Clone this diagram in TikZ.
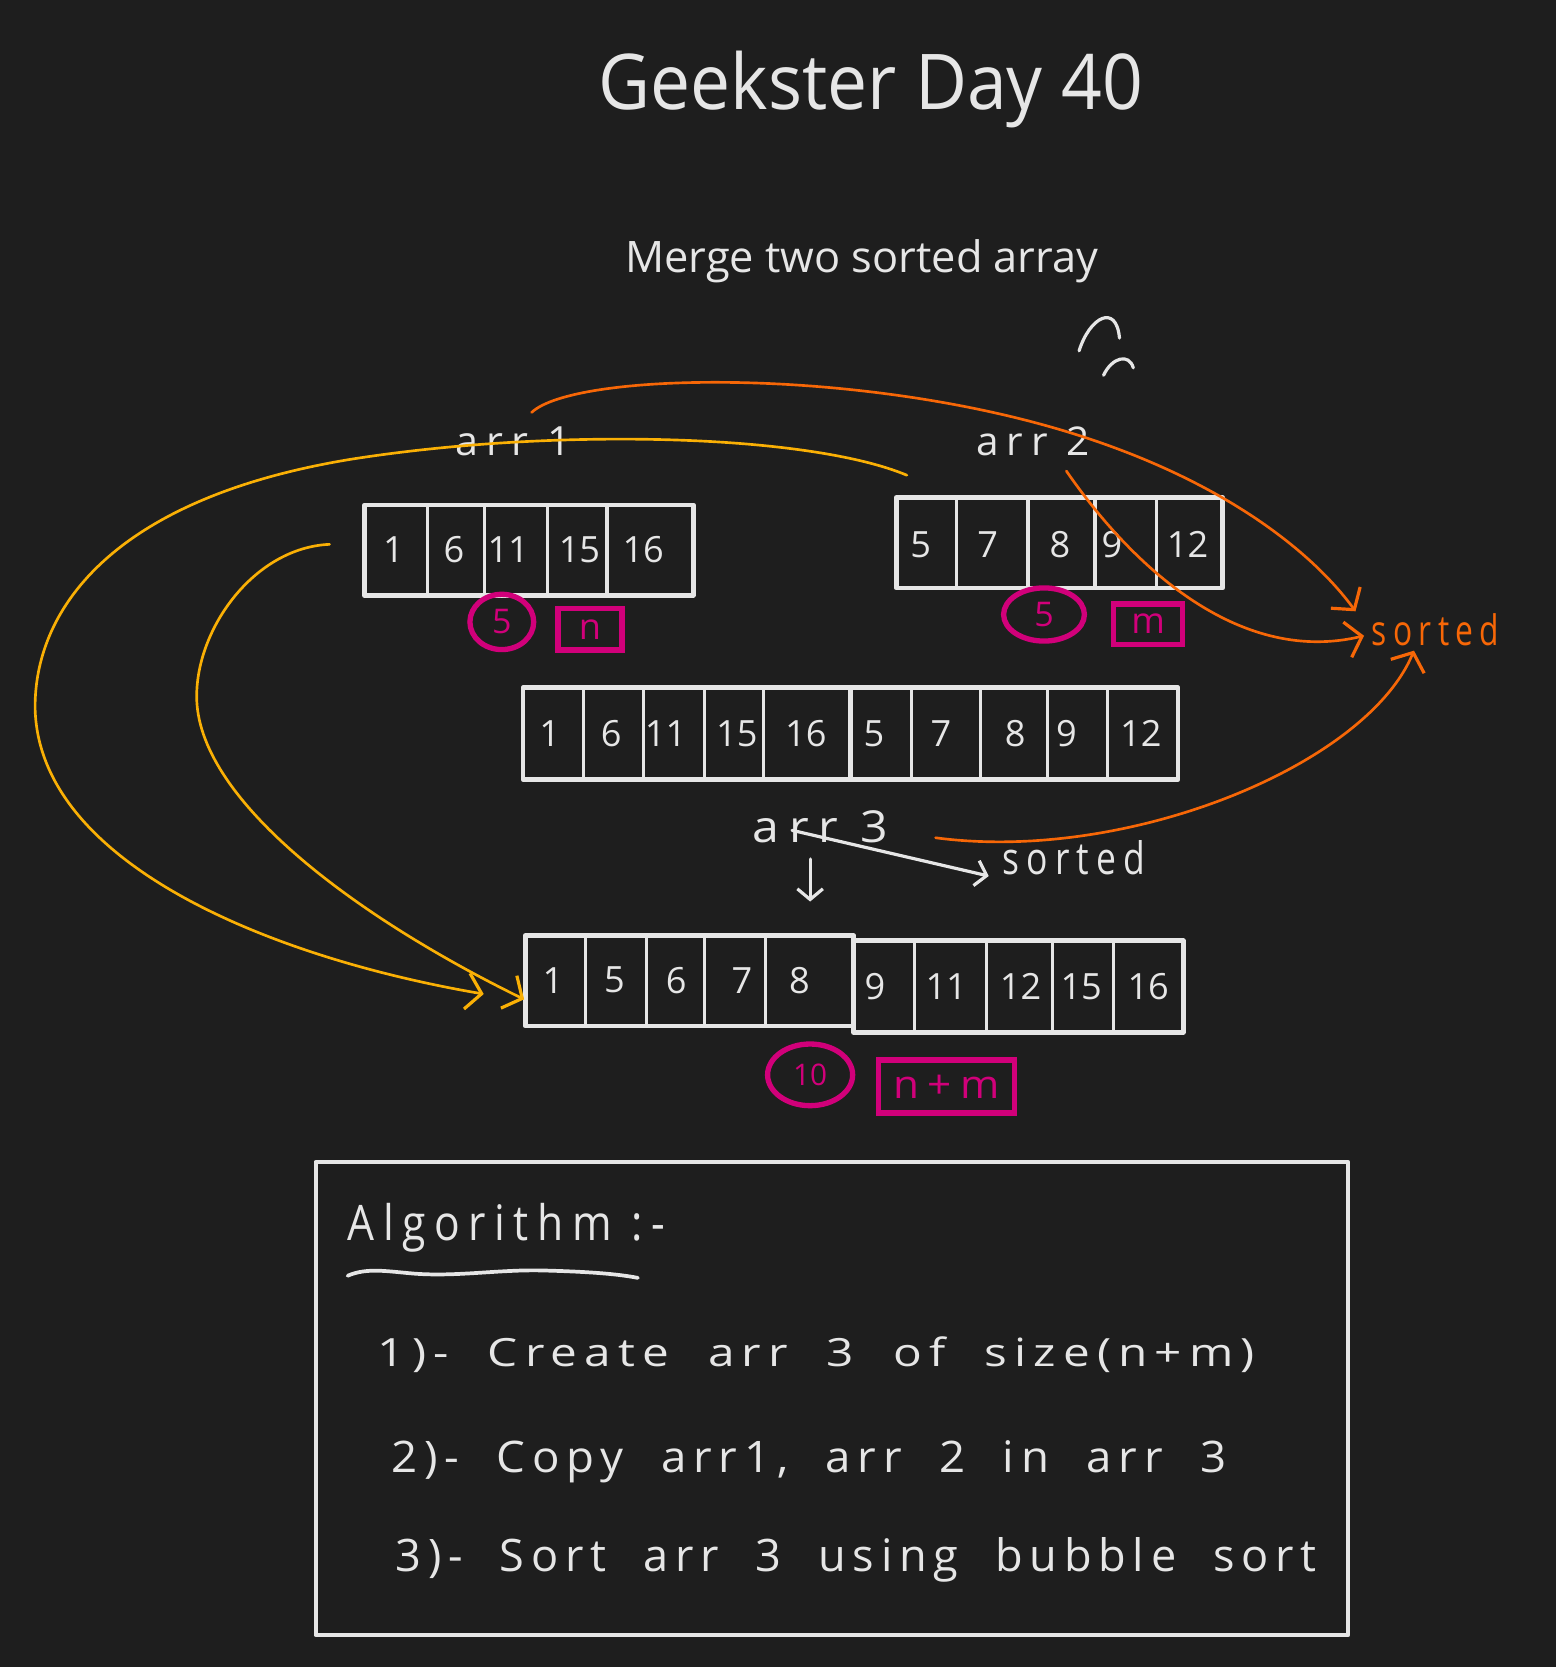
\documentclass[tikz,border=0pt]{standalone}
\usepackage{fontspec}
\usepackage{graphicx}
\setmainfont{Open Sans}
\newfontfamily\spaced{Open Sans}[LetterSpace=20]
\newfontfamily\spacedw{Open Sans}[LetterSpace=15,WordSpace=2]
\usetikzlibrary{arrows.meta,shapes.geometric}
\definecolor{bg}{HTML}{1E1E1E}
\definecolor{ink}{HTML}{E6E6E6}
\definecolor{pinkc}{HTML}{D1007A}
\definecolor{orng}{HTML}{F76707}
\definecolor{yel}{HTML}{FAB005}
\newcommand\hw[3]{\resizebox{#1pt}{#2pt}{#3}}
\begin{document}
\begin{tikzpicture}[x=1pt,y=-1pt,
  box/.style={draw=ink, line width=4.5pt, inner sep=0pt, outer sep=0pt, line join=round},
  div/.style={draw=ink, line width=3pt, line cap=round},
  num/.style={text=ink, inner sep=0pt, font=\fontsize{34}{34}\selectfont},
  lbl/.style={text=ink, inner sep=0pt, anchor=base west},
  pc/.style={draw=pinkc, ellipse, line width=5pt, inner sep=0pt, text=pinkc, font=\fontsize{32}{32}\selectfont},
  pb/.style={draw=pinkc, rectangle, line width=5pt, inner sep=0pt, text=pinkc, font=\fontsize{34}{34}\selectfont},
  ycon/.style={draw=yel, line width=2.5pt, line cap=round, -{Straight Barb[length=14pt,width=34pt,line width=3pt]}},
  ocon/.style={draw=orng, line width=2.5pt, line cap=round, -{Straight Barb[length=14pt,width=34pt,line width=3pt]}},
  wcon/.style={draw=ink, line width=3pt, line cap=round, -{Straight Barb[length=10pt,width=24pt,line width=3pt]}},
  scrib/.style={draw=ink, line width=3pt, line cap=round}]
\useasboundingbox[fill=bg] (0,0) rectangle (1464,1568);

% titles
\node[lbl] (ttl) at (563,103) {\hw{512}{55}{Geekster Day 40}};
\node[lbl] (sub) at (588,256) {\hw{445}{31}{Merge two sorted array}};

% scribble
\draw[scrib] (1015,330) .. controls (1025,298) and (1050,285) .. (1053,318);
\draw[scrib] (1038,353) .. controls (1046,336) and (1062,332) .. (1066,346);

% labels
\node[lbl] (l1) at (428,428) {\hw{109}{27}{\spaced arr 1}};
\node[lbl] (l2) at (918,428) {\hw{107}{27}{\spaced arr 2}};

% arr1
\node[box, minimum width=309pt, minimum height=85pt, anchor=north west] (arr1) at (343,475) {};
\foreach \x in {402,456,515,571} \draw[div] (\x,475) -- (\x,560);
\foreach \x/\t in {370/1,427/6,478/11,545/15,605/16} \node[num] (a1n\x) at (\x,517) {\t};

% arr2
\node[box, minimum width=307pt, minimum height=85pt, anchor=north west] (arr2) at (843,468) {};
\foreach \x in {900,967,1030,1088} \draw[div] (\x,468) -- (\x,553);
\foreach \x/\t in {866/5,929/7,997/8,1046/9,1117/12} \node[num] (a2n\x) at (\x,512) {\t};

% pink sizes
\node[pc, minimum width=60pt, minimum height=52pt] (c1) at (472,585) {5};
\node[pb, minimum width=60pt, minimum height=39pt] (b1) at (555,592) {n};
\node[pc, minimum width=76pt, minimum height=50pt] (c2) at (982,578) {5};
\node[pb, minimum width=65pt, minimum height=38pt] (b2) at (1080,587) {m};

% merged array
\node[box, minimum width=616pt, minimum height=86pt, anchor=north west] (arr12) at (492,647) {};
\foreach \x in {549,605,663,718,857,922,985,1042} \draw[div] (\x,647) -- (\x,733);
\draw[box] (800,647) -- (800,733);
\foreach \x/\t in {517/1,575/6,626/11,693/15,758/16,822/5,885/7,955/8,1003/9,1073/12} \node[num] (mn\x) at (\x,690) {\t};

% arr 3 and sorted
\node[lbl] (l3) at (708,792) {\hw{127}{30}{\spaced arr 3}};
\node[lbl] (srtw) at (943,823) {\hw{134}{32}{\spaced sorted}};
\coordinate (w0) at (745,781);
\coordinate (w1) at (930,824);
\draw[wcon] (w0) -- (w1);
\coordinate (d0) at (762,808);
\coordinate (d1) at (762,848);
\draw[wcon] (d0) -- (d1);

% final array
\node[box, minimum width=309pt, minimum height=85pt, anchor=north west] (arr3a) at (494,880) {};
\node[box, minimum width=310pt, minimum height=86pt, anchor=north west] (arr3b) at (803,885) {};
\foreach \x in {551,608,663,720} \draw[div] (\x,880) -- (\x,965);
\foreach \x in {860,928,990,1047} \draw[div] (\x,885) -- (\x,971);
\foreach \x/\t in {520/1,578/5,636/6,698/7,752/8} \node[num] (fa\x) at (\x,922) {\t};
\foreach \x/\t in {823/9,890/11,960/12,1017/15,1080/16} \node[num] (fb\x) at (\x,928) {\t};

\node[pc, minimum width=80pt, minimum height=58pt, font=\fontsize{28}{28}\selectfont] (c3) at (762,1011) {10};
\node[pb, minimum width=128pt, minimum height=50pt] (b3) at (890,1022) {\hw{100}{22}{\spaced n+m}};

% orange sorted
\node[lbl, text=orng] (srto) at (1290,607) {\hw{120}{30}{\spaced sorted}};

% yellow connectors
\coordinate (yo0) at (853,447);
\coordinate (yo1) at (455,935);
\draw[ycon] (yo0) .. controls (760,408) and (520,402) .. (330,432) .. controls (110,468) and (33,570) .. (33,665) .. controls (35,810) and (250,900) .. (yo1);
\coordinate (yi0) at (310,512);
\coordinate (yi1) at (493,940);
\draw[ycon] (yi0) .. controls (240,515) and (185,590) .. (185,655) .. controls (185,750) and (330,860) .. (yi1);

% orange connectors
\coordinate (oa0) at (500,388);
\coordinate (oa1) at (1275,575);
\draw[ocon] (oa0) .. controls (540,350) and (800,345) .. (1000,405) .. controls (1150,450) and (1235,520) .. (oa1);
\coordinate (ob0) at (1003,443);
\coordinate (ob1) at (1283,598);
\draw[ocon] (ob0) .. controls (1070,540) and (1170,625) .. (ob1);
\coordinate (oc0) at (880,788);
\coordinate (oc1) at (1330,612);
\draw[ocon] (oc0) .. controls (1060,812) and (1285,720) .. (oc1);

% algorithm box
\node[box, line width=4pt, minimum width=971pt, minimum height=445pt, anchor=north west] (algo) at (297,1093) {};
\node[lbl] (alg) at (327,1167) {\hw{298}{35}{\spaced Algorithm :-}};
\draw[scrib, line width=3.5pt] (327,1200) .. controls (345,1192) and (365,1196) .. (390,1198) .. controls (430,1201) and (470,1194) .. (510,1195) .. controls (550,1196) and (580,1198) .. (600,1202);
\node[lbl] (s1) at (355,1285) {\hw{825}{28}{\spacedw 1)- Create arr 3 of size(n+m)}};
\node[lbl] (s2) at (368,1385) {\hw{785}{30}{\spacedw 2)- Copy arr1, arr 2 in arr 3}};
\node[lbl] (s3) at (372,1478) {\hw{866}{32}{\spacedw 3)- Sort arr 3 using bubble sort}};
\end{tikzpicture}
\end{document}
